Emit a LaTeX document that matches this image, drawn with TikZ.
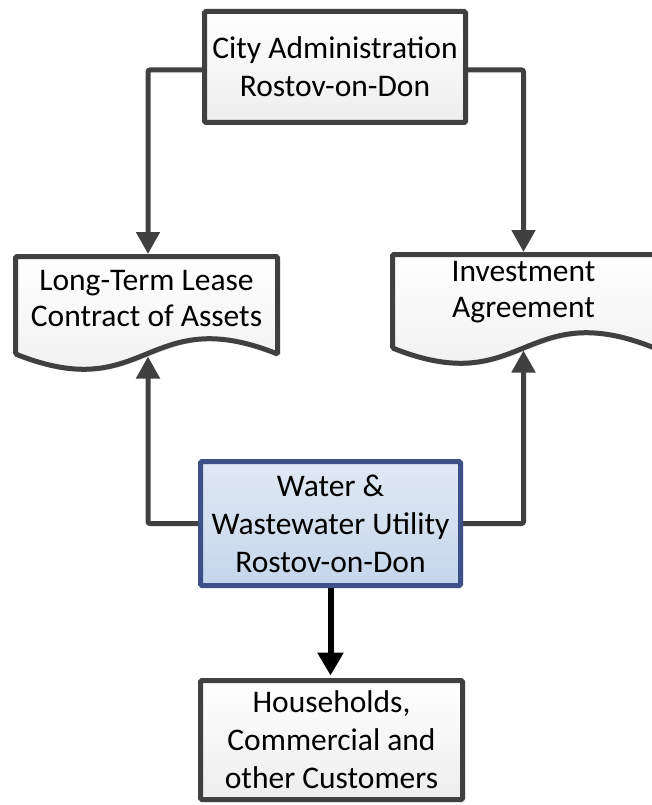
\documentclass[tikz,border=0pt]{standalone}
\usepackage{fontspec}
\setmainfont{Carlito}
\usetikzlibrary{arrows.meta,shadows,backgrounds,calc}
\definecolor{edgegray}{RGB}{64,64,64}
\definecolor{bluetop}{RGB}{224,233,244}
\definecolor{bluebot}{RGB}{196,214,235}
\definecolor{blueedge}{RGB}{62,80,138}
\begin{document}
\begin{tikzpicture}[x=1pt,y=-1pt,
  txt/.style={font=\fontsize{31.5}{38}\selectfont, align=center, text=black, inner sep=0pt},
  doctxt/.style={txt, font=\fontsize{31.5}{36}\selectfont},
  shadowed/.style={drop shadow={shadow xshift=2.5pt, shadow yshift=-2.5pt, opacity=0.25, fill=gray}},
  graybox/.style={txt, draw=edgegray, line width=5pt, rounded corners=1.5pt,
    top color=white, bottom color=gray!14, shadowed},
  bluebox/.style={txt, draw=blueedge, line width=5pt, rounded corners=1.5pt,
    top color=bluetop, bottom color=bluebot, shadowed},
  docshape/.style={draw=edgegray, line width=5pt, rounded corners=1.5pt,
    top color=white, bottom color=gray!14, shadowed},
  conn/.style={draw=edgegray, line width=5pt, rounded corners=2pt, -{Triangle[width=23pt,length=22pt]}},
  mainconn/.style={draw=black, line width=6pt, -{Triangle[width=25pt,length=23pt]}},
]
\useasboundingbox (0,0) rectangle (652,805);
\clip (0,0) rectangle (652,805);

% boxes
\node[graybox, minimum width=261pt, minimum height=111pt] (city) at (335,67)
  {City Administration\\Rostov-on-Don};
\node[bluebox, minimum width=260pt, minimum height=124pt] (water) at (330.5,523.5)
  {Water \&\\Wastewater Utility\\Rostov-on-Don};
\node[graybox, minimum width=262pt, minimum height=119pt] (house) at (331.5,740)
  {Households,\\Commercial and\\other Customers};

% document shapes
\path[docshape] (15.5,256.5) -- (277.5,256.5) -- (277.5,354)
  .. controls (146.5,302) and (146.5,406) .. (15.5,354) -- cycle;
\node[doctxt] (lease) at (146.5,299) {Long-Term Lease\\Contract of Assets};
\path[docshape] (392.5,254.5) -- (654.5,254.5) -- (654.5,348)
  .. controls (523.5,296) and (523.5,400) .. (392.5,348) -- cycle;
\node[doctxt] (invest) at (523.5,292) {Investment\\Agreement};

\coordinate (leaseTop) at (148,254);
\coordinate (leaseBot) at (148,356.5);
\coordinate (investTop) at (523.5,252);
\coordinate (investBot) at (523.5,350.5);

\begin{pgfonlayer}{background}
\draw[conn] ([yshift=-3pt]city.west) -| (leaseTop);
\draw[conn] ([yshift=-3pt]city.east) -| (investTop);
\draw[conn] (water.west) -| (leaseBot);
\draw[conn] (water.east) -| (investBot);
\end{pgfonlayer}
\draw[mainconn] (water.south) -- ([yshift=2.5pt]water.south |- house.north);
\end{tikzpicture}
\end{document}
